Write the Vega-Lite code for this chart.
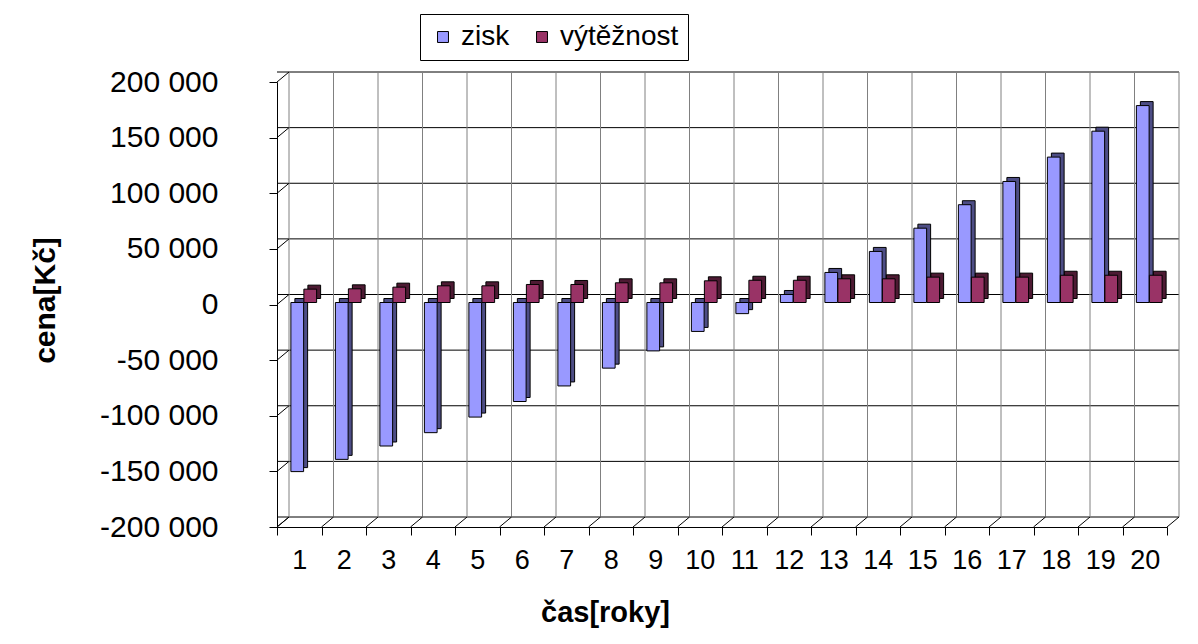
{
  "$schema": "https://vega.github.io/schema/vega-lite/v6.json",
  "width": 890,
  "height": 445,
  "autosize": {"type": "none"},
  "padding": {"left": 277, "top": 82, "right": 31, "bottom": 117},
  "background": "white",
  "config": {
    "font": "Liberation Sans",
    "view": {"stroke": null},
    "locale": {"number": {"decimal": ",", "thousands": " ", "grouping": [3], "currency": ["", " Kč"], "minus": "-"}}
  },
  "datasets": {
    "hodnoty": [
      {"rok": 1, "rada": "zisk", "hodnota": -152000}, {"rok": 1, "rada": "výtěžnost", "hodnota": 12000},
      {"rok": 2, "rada": "zisk", "hodnota": -141000}, {"rok": 2, "rada": "výtěžnost", "hodnota": 12300},
      {"rok": 3, "rada": "zisk", "hodnota": -129000}, {"rok": 3, "rada": "výtěžnost", "hodnota": 13800},
      {"rok": 4, "rada": "zisk", "hodnota": -117000}, {"rok": 4, "rada": "výtěžnost", "hodnota": 15000},
      {"rok": 5, "rada": "zisk", "hodnota": -103000}, {"rok": 5, "rada": "výtěžnost", "hodnota": 15000},
      {"rok": 6, "rada": "zisk", "hodnota": -89000}, {"rok": 6, "rada": "výtěžnost", "hodnota": 16200},
      {"rok": 7, "rada": "zisk", "hodnota": -75000}, {"rok": 7, "rada": "výtěžnost", "hodnota": 16200},
      {"rok": 8, "rada": "zisk", "hodnota": -59000}, {"rok": 8, "rada": "výtěžnost", "hodnota": 17700},
      {"rok": 9, "rada": "zisk", "hodnota": -43500}, {"rok": 9, "rada": "výtěžnost", "hodnota": 17700},
      {"rok": 10, "rada": "zisk", "hodnota": -26000}, {"rok": 10, "rada": "výtěžnost", "hodnota": 19500},
      {"rok": 11, "rada": "zisk", "hodnota": -10000}, {"rok": 11, "rada": "výtěžnost", "hodnota": 20000},
      {"rok": 12, "rada": "zisk", "hodnota": 7200}, {"rok": 12, "rada": "výtěžnost", "hodnota": 20000},
      {"rok": 13, "rada": "zisk", "hodnota": 27000}, {"rok": 13, "rada": "výtěžnost", "hodnota": 21300},
      {"rok": 14, "rada": "zisk", "hodnota": 45900}, {"rok": 14, "rada": "výtěžnost", "hodnota": 21300},
      {"rok": 15, "rada": "zisk", "hodnota": 66800}, {"rok": 15, "rada": "výtěžnost", "hodnota": 22800},
      {"rok": 16, "rada": "zisk", "hodnota": 87900}, {"rok": 16, "rada": "výtěžnost", "hodnota": 22800},
      {"rok": 17, "rada": "zisk", "hodnota": 108800}, {"rok": 17, "rada": "výtěžnost", "hodnota": 22800},
      {"rok": 18, "rada": "zisk", "hodnota": 130700}, {"rok": 18, "rada": "výtěžnost", "hodnota": 24500},
      {"rok": 19, "rada": "zisk", "hodnota": 154000}, {"rok": 19, "rada": "výtěžnost", "hodnota": 24500},
      {"rok": 20, "rada": "zisk", "hodnota": 177000}, {"rok": 20, "rada": "výtěžnost", "hodnota": 24500}
    ],
    "mrizka": [
      {"v": -200000}, {"v": -150000}, {"v": -100000}, {"v": -50000}, {"v": 0},
      {"v": 50000}, {"v": 100000}, {"v": 150000}, {"v": 200000}
    ]
  },
  "data": {"name": "hodnoty"},
  "encoding": {
    "x": {
      "field": "rok",
      "type": "ordinal",
      "scale": {"paddingInner": 0, "paddingOuter": 0},
      "axis": {
        "title": "čas[roky]",
        "titleFontSize": 29,
        "titleFontWeight": "bold",
        "titleColor": "black",
        "titleX": 328,
        "titleY": 85,
        "titleBaseline": "middle",
        "titleAlign": "center",
        "labelAngle": 0,
        "labelFontSize": 27,
        "labelColor": "black",
        "labelPadding": 12,
        "tickBand": "extent",
        "tickSize": 8,
        "tickColor": "black",
        "domainColor": "black",
        "grid": false
      }
    },
    "y": {
      "field": "hodnota",
      "type": "quantitative",
      "scale": {"domain": [-200000, 200000], "nice": false},
      "axis": {
        "title": "cena[Kč]",
        "titleFontSize": 30,
        "titleFontWeight": "bold",
        "titleColor": "black",
        "titleX": -232,
        "titleY": 218,
        "titleAlign": "center",
        "titleBaseline": "middle",
        "values": [-200000, -150000, -100000, -50000, 0, 50000, 100000, 150000, 200000],
        "format": ",d",
        "labelFontSize": 30,
        "labelColor": "black",
        "labelPadding": 51,
        "tickSize": 8,
        "tickColor": "black",
        "domainColor": "black",
        "grid": false
      }
    }
  },
  "layer": [
    {
      "data": {"name": "mrizka"},
      "mark": {"type": "rule", "color": "black", "strokeWidth": 1, "xOffset": 12, "x2Offset": 12, "yOffset": -10, "y2Offset": -10},
      "encoding": {"x": null, "y": {"field": "v", "type": "quantitative"}}
    },
    {
      "transform": [{"filter": "datum.rada === 'zisk'"}],
      "mark": {"type": "rule", "color": "#808080", "strokeWidth": 1, "xOffset": 12, "yOffset": -10, "y2Offset": -10},
      "encoding": {
        "x": {"field": "rok", "type": "ordinal", "bandPosition": 0},
        "y": {"datum": 200000},
        "y2": {"datum": -200000}
      }
    },
    {
      "transform": [{"filter": "datum.rada === 'zisk' && datum.rok === 20"}],
      "mark": {"type": "rule", "color": "#808080", "strokeWidth": 1, "xOffset": 12, "yOffset": -10, "y2Offset": -10},
      "encoding": {
        "x": {"field": "rok", "type": "ordinal", "bandPosition": 1},
        "y": {"datum": 200000},
        "y2": {"datum": -200000}
      }
    },
    {
      "transform": [{"filter": "datum.rada === 'zisk'"}],
      "mark": {"type": "rule", "color": "black", "strokeWidth": 1, "x2Offset": 12, "y2Offset": -10},
      "encoding": {
        "x": {"field": "rok", "type": "ordinal", "bandPosition": 0},
        "x2": {"field": "rok", "bandPosition": 0},
        "y": {"datum": -200000},
        "y2": {"datum": -200000}
      }
    },
    {
      "transform": [{"filter": "datum.rada === 'zisk' && datum.rok === 20"}],
      "mark": {"type": "rule", "color": "black", "strokeWidth": 1, "x2Offset": 12, "y2Offset": -10},
      "encoding": {
        "x": {"field": "rok", "type": "ordinal", "bandPosition": 1},
        "x2": {"field": "rok", "bandPosition": 1},
        "y": {"datum": -200000},
        "y2": {"datum": -200000}
      }
    },
    {
      "data": {"name": "mrizka"},
      "mark": {"type": "rule", "color": "black", "strokeWidth": 1, "x2Offset": 12, "y2Offset": -10},
      "encoding": {
        "x": {"datum": 1, "type": "ordinal", "bandPosition": 0},
        "x2": {"datum": 1, "bandPosition": 0},
        "y": {"field": "v", "type": "quantitative"},
        "y2": {"field": "v"}
      }
    },
    {
      "transform": [{"filter": "datum.rada === 'zisk'"}],
      "mark": {"type": "bar", "width": {"band": 0.2865}, "xOffset": 2, "yOffset": -6, "y2Offset": -6, "color": "#4d4d85", "stroke": "black", "strokeWidth": 1}
    },
    {
      "transform": [{"filter": "datum.rada === 'zisk'"}],
      "mark": {"type": "bar", "width": {"band": 0.2865}, "xOffset": -2, "yOffset": -2, "y2Offset": -2, "stroke": "black", "strokeWidth": 1},
      "encoding": {
        "fill": {
          "field": "rada",
          "type": "nominal",
          "scale": {"domain": ["zisk", "výtěžnost"], "range": ["#9999ff", "#993366"]},
          "legend": {
            "title": null,
            "orient": "none",
            "direction": "horizontal",
            "legendX": 143,
            "legendY": -68,
            "symbolType": "square",
            "symbolSize": 120,
            "symbolStrokeColor": "black",
            "symbolStrokeWidth": 1,
            "labelFontSize": 28,
            "labelColor": "black",
            "labelOffset": 4,
            "columnPadding": 18,
            "padding": 9,
            "strokeColor": "black",
            "fillColor": "white"
          }
        }
      }
    },
    {
      "transform": [{"filter": "datum.rada === 'výtěžnost'"}],
      "mark": {"type": "bar", "width": {"band": 0.2865}, "xOffset": 15, "yOffset": -6, "y2Offset": -6, "color": "#4d1a33", "stroke": "black", "strokeWidth": 1}
    },
    {
      "transform": [{"filter": "datum.rada === 'výtěžnost'"}],
      "mark": {"type": "bar", "width": {"band": 0.2865}, "xOffset": 11, "yOffset": -2, "y2Offset": -2, "stroke": "black", "strokeWidth": 1},
      "encoding": {
        "fill": {"field": "rada", "type": "nominal"}
      }
    }
  ]
}
